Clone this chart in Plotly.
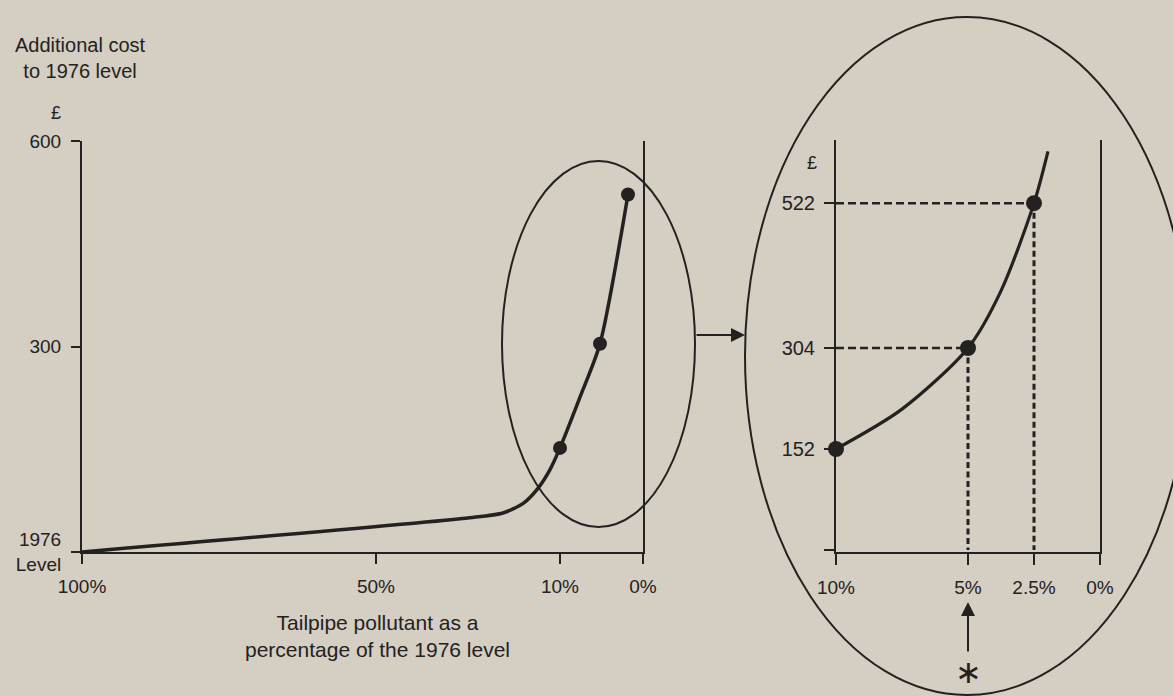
import numpy as np
import plotly.graph_objects as go

# ---------------- data ----------------
# Overview curve (left panel): tailpipe pollutant % of 1976 level vs additional cost (£)
overview_pct = [100, 29.6, 22.4, 18.0, 14.8, 12.2, 10, 7.5, 5, 2.5]
overview_cost = [0, 50, 57, 71, 93, 120, 152, 226, 304, 522]

# Highlighted points (both panels)
point_pct = [10, 5, 2.5]
point_cost = [152, 304, 522]

# Detail curve (right panel)
detail_pct = [10, 7.5, 5, 3.75, 2.5, 1.97]
detail_cost = [152, 212, 304, 390, 522, 600]

# Tick labels
left_xtick_pct = [100, 50, 10, 0]
left_xtick_text = ["100%", "50%", "10%", "0%"]
left_ytick_vals = [0, 300, 600]
left_ytick_text = ["1976<br>Level", "300", "600"]
right_xtick_pct = [10, 5, 2.5, 0]
right_xtick_text = ["10%", "5%", "2.5%", "0%"]

# ---------------- schematic (non-linear) x scale of the left panel ----------------
SCALE_PCT = [100, 50, 10, 5, 2.5, 0]
SCALE_POS = [0, 294, 478, 518, 546, 561]


def xpos(p):
    return np.interp(-np.asarray(p, dtype=float), -np.asarray(SCALE_PCT, dtype=float), SCALE_POS)


W, H = 1173, 696


def px(x):
    return x / W


def py(y):
    return 1 - y / H


INK = "#242220"
BG = "#d4cec3"
FONT = "Liberation Sans, Arial, Helvetica, sans-serif"

fig = go.Figure()

# dashed guide lines in the detail panel
for p, c in zip(point_pct, point_cost):
    if p == max(point_pct):
        continue
    fig.add_trace(go.Scatter(x=[max(point_pct), p], y=[c, c], mode="lines",
                             line=dict(color=INK, width=2.5, dash="8px,4px"),
                             xaxis="x2", yaxis="y2", hoverinfo="skip"))
    fig.add_trace(go.Scatter(x=[p, p], y=[c, 0], mode="lines",
                             line=dict(color=INK, width=3, dash="6px,3.5px"),
                             xaxis="x2", yaxis="y2", hoverinfo="skip"))

# left overview curve
fig.add_trace(go.Scatter(x=xpos(overview_pct), y=overview_cost, mode="lines",
                         line=dict(color=INK, width=3.5, shape="spline", smoothing=0.7),
                         xaxis="x", yaxis="y", cliponaxis=False))
fig.add_trace(go.Scatter(x=xpos(point_pct), y=point_cost, mode="markers",
                         marker=dict(color=INK, size=14),
                         xaxis="x", yaxis="y", cliponaxis=False))

# right detail curve
fig.add_trace(go.Scatter(x=detail_pct, y=detail_cost, mode="lines",
                         line=dict(color=INK, width=3.2, shape="spline", smoothing=0.8),
                         xaxis="x2", yaxis="y2", cliponaxis=False))
fig.add_trace(go.Scatter(x=point_pct, y=point_cost, mode="markers",
                         marker=dict(color=INK, size=16),
                         xaxis="x2", yaxis="y2", cliponaxis=False))

axis_common = dict(showline=True, linecolor=INK, linewidth=2, ticks="outside",
                   tickcolor=INK, tickwidth=2, showgrid=False, zeroline=False,
                   automargin=False, fixedrange=True)

fig.update_layout(
    width=W, height=H, margin=dict(l=0, r=0, t=0, b=0, pad=0),
    paper_bgcolor=BG, plot_bgcolor=BG, showlegend=False,
    font=dict(family=FONT, color=INK),
    xaxis=dict(domain=[px(82), px(643)], range=[0, 561], anchor="y",
               tickvals=list(xpos(left_xtick_pct)), ticktext=left_xtick_text,
               ticklen=10, ticklabelstandoff=6,
               tickfont=dict(family=FONT, size=19, color=INK), **axis_common),
    yaxis=dict(domain=[py(552), py(141)], range=[0, 600], anchor="x", mirror=True,
               tickvals=left_ytick_vals, ticktext=left_ytick_text,
               ticklen=9, ticklabelstandoff=6,
               tickfont=dict(family=FONT, size=19, color=INK), **axis_common),
    xaxis2=dict(domain=[px(836), px(1100)], range=[10, 0], anchor="y2",
                tickvals=right_xtick_pct, ticktext=right_xtick_text,
                ticklen=11, ticklabelstandoff=6,
                tickfont=dict(family=FONT, size=19, color=INK), **axis_common),
    yaxis2=dict(domain=[py(552), py(140)], range=[-3, 617], anchor="x2", mirror=True,
                tickvals=[0] + point_cost, ticktext=[""] + [str(v) for v in point_cost],
                ticklen=10, ticklabelstandoff=5,
                tickfont=dict(family=FONT, size=20, color=INK), **axis_common),
)

# ellipses
fig.add_shape(type="circle", xref="paper", yref="paper",
              x0=px(502), x1=px(695), y0=py(527), y1=py(161),
              line=dict(color=INK, width=2))
fig.add_shape(type="circle", xref="paper", yref="paper",
              x0=px(745), x1=px(1189), y0=py(695), y1=py(17),
              line=dict(color=INK, width=2))

# arrows
fig.add_annotation(xref="paper", yref="paper", x=px(745), y=py(335), ax=-50, ay=0,
                   text="", showarrow=True, arrowhead=2, arrowsize=1.4, arrowwidth=2,
                   arrowcolor=INK)
fig.add_annotation(xref="paper", yref="paper", x=px(968), y=py(602), ax=0, ay=51,
                   text="", showarrow=True, arrowhead=2, arrowsize=1.4, arrowwidth=2,
                   arrowcolor=INK)

# texts
txt = dict(xref="paper", yref="paper", showarrow=False, xanchor="center", yanchor="middle",
           align="center")
fig.add_annotation(x=px(80), y=py(58), text="Additional cost<br>to 1976 level",
                   font=dict(size=20, family=FONT, color=INK), **txt)
fig.add_annotation(x=px(56), y=py(113), text="£",
                   font=dict(size=18, family=FONT, color=INK), **txt)
fig.add_annotation(x=px(812), y=py(163), text="£",
                   font=dict(size=18, family=FONT, color=INK), **txt)
fig.add_annotation(x=px(377), y=py(636),
                   text="Tailpipe pollutant as a<br>percentage of the 1976 level",
                   font=dict(size=21, family=FONT, color=INK), **txt)
fig.add_annotation(x=px(968), y=py(672), text="∗",
                   font=dict(size=32, family="DejaVu Sans, sans-serif", color=INK), **txt)

fig.write_html("out.html", config={"displayModeBar": False},
               post_script="document.body.style.margin='0px';document.body.style.overflow='hidden';")
